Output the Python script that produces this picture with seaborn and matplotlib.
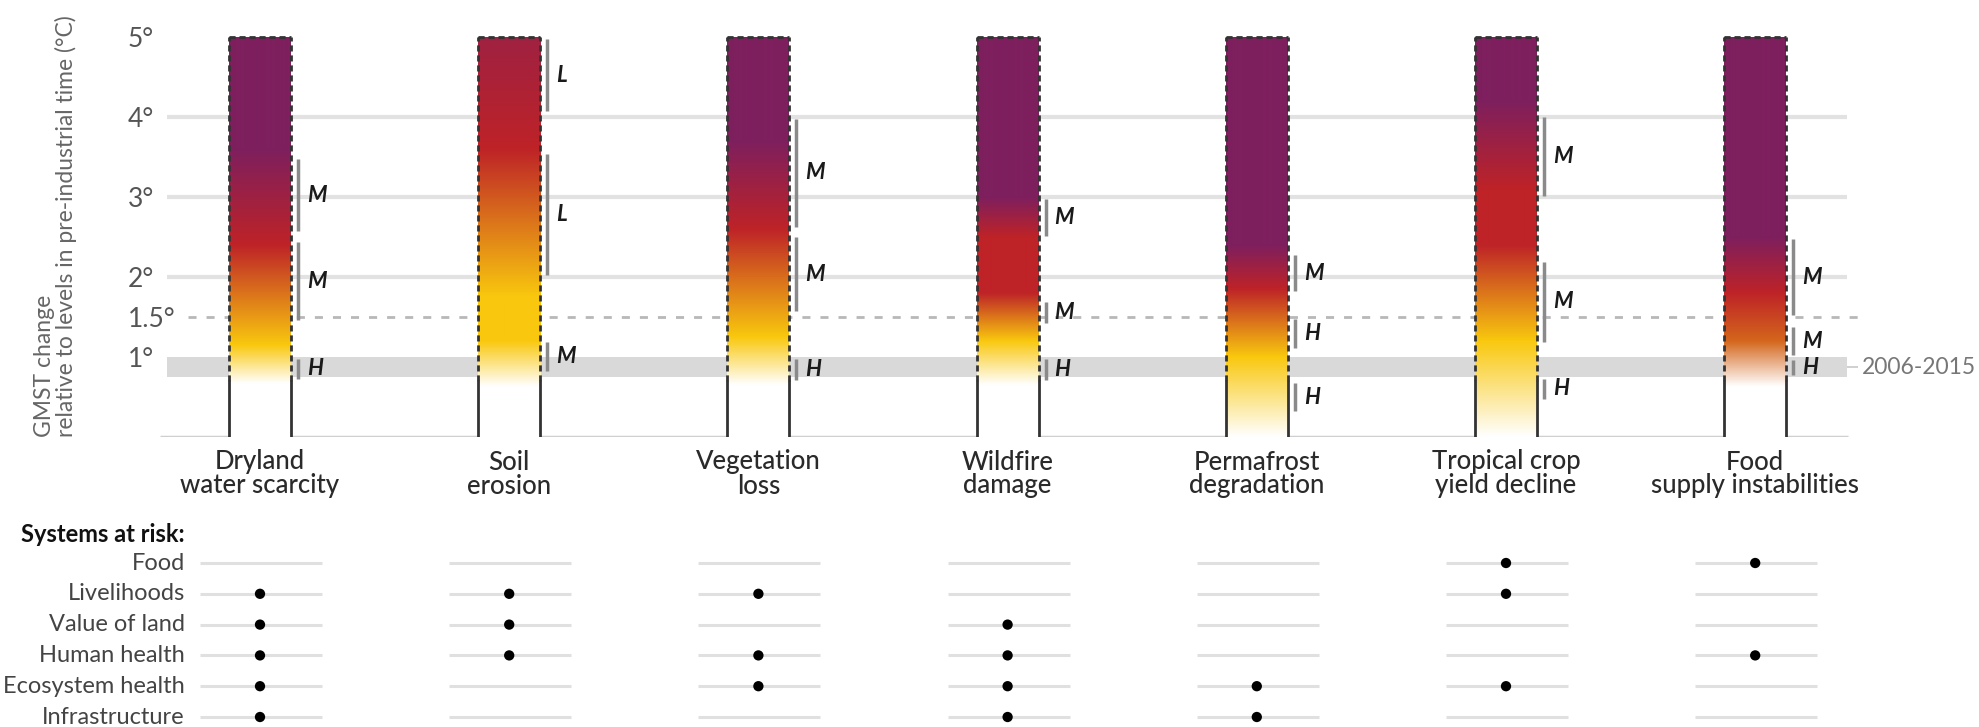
import numpy as np
import pandas as pd
import matplotlib
matplotlib.use("Agg")
import matplotlib.pyplot as plt
import seaborn as sns
from matplotlib.colors import to_rgb

# ---- data -------------------------------------------------------------
categories = [
    "Dryland\nwater scarcity",
    "Soil\nerosion",
    "Vegetation\nloss",
    "Wildfire\ndamage",
    "Permafrost\ndegradation",
    "Tropical crop\nyield decline",
    "Food\nsupply instabilities",
]

# GMST (°C) at which each risk colour is reached, per bar
stop_temps = [
    [0.67, 1.15, 2.4, 3.6],
    [0.63, 1.2, 1.75, 3.6, 6.5],
    [0.65, 1.25, 2.6, 3.7],
    [0.65, 1.2, 1.8, 2.5, 3.0],
    [0.0, 1.0, 1.85, 2.4],
    [0.0, 1.2, 2.4, 3.1, 4.2],
    [0.63, 1.2, 1.8, 2.5],
]
stop_colors = [
    ["white", "yellow", "red", "purple"],
    ["white", "yellow", "yellow", "red", "purple"],
    ["white", "yellow", "red", "purple"],
    ["white", "yellow", "red", "red", "purple"],
    ["white", "yellow", "red", "purple"],
    ["white", "yellow", "red", "red", "purple"],
    ["white", "orange", "red", "purple"],
]

# confidence brackets
bracket_cat = [0, 0, 0, 1, 1, 1, 2, 2, 2, 3, 3, 3, 4, 4, 4, 5, 5, 5, 6, 6, 6]
bracket_lo = [2.55, 1.44, 0.71, 4.05, 2.0, 0.8, 2.61, 1.55, 0.69, 2.49, 1.4, 0.69,
              1.8, 1.09, 0.3, 2.99, 1.17, 0.46, 1.5, 1.0, 0.75]
bracket_hi = [3.5, 2.46, 1.0, 5.0, 3.56, 1.21, 4.0, 2.52, 1.0, 3.0, 1.71, 1.0,
              2.3, 1.49, 0.69, 4.02, 2.21, 0.75, 2.49, 1.4, 0.98]
bracket_conf = ["M", "M", "H", "L", "L", "M", "M", "M", "H", "M", "M", "H",
                "M", "H", "H", "M", "M", "H", "M", "M", "H"]

ytick_values = [1, 1.5, 2, 3, 4, 5]
ytick_labels = ["1°", "1.5°", "2°", "3°", "4°", "5°"]
band_lo, band_hi = 0.75, 1.0  # 2006-2015 warming

systems = ["Food", "Livelihoods", "Value of land", "Human health",
           "Ecosystem health", "Infrastructure"]
at_risk_food = [5, 6]
at_risk_livelihoods = [0, 1, 2, 5]
at_risk_land = [0, 1, 3]
at_risk_health = [0, 1, 2, 3, 6]
at_risk_ecosystem = [0, 2, 3, 4, 5]
at_risk_infrastructure = [0, 3, 4]

palette = {"white": "#ffffff", "yellow": "#f9c80e", "orange": "#d4661c",
           "red": "#be2327", "purple": "#7e1f5e"}

# ---- style ------------------------------------------------------------
sns.set_theme(style="white")
plt.rcParams["font.family"] = ["Lato", "DejaVu Sans"]

W, H = 1979, 727
px = 249.2                      # pixels per category
x_left = -100 / px
x_right = (W - 260) / px
hw = 31 / px                    # bar half width

fig = plt.figure(figsize=(W / 100, H / 100), dpi=100)
ax = fig.add_axes([160 / W, (H - 437) / H, (W - 160) / W, (437 - 10) / H])
ax2 = fig.add_axes([160 / W, 0, (W - 160) / W, (H - 520) / H])

# ---- upper panel ------------------------------------------------------
g0, g1 = -93 / px, 1587 / px
ax.hlines([2, 3, 4], g0, g1, color="#e2e2e2", lw=3, zorder=0)
ax.fill_between([g0, g1], band_lo, band_hi, color="#d9d9d9", lw=0, zorder=0)
ax.hlines(1.5, -72 / px, 1598 / px, color="#b8b8b8", lw=2,
          linestyles=(0, (2.9, 3.6)), zorder=1)
ax.hlines(0, x_left, 1588 / px, color="#cfcfcf", lw=2.5, zorder=1)
band_mid = (band_lo + band_hi) / 2
ax.hlines(band_mid, g1, 1598 / px, color="#c8c8c8", lw=1.2)
ax.text(1602 / px, band_mid, "2006-2015", va="center", ha="left",
        fontsize=16.5, color="#777777")

t = np.linspace(0, 5, 600)
dash = (0, (2.2, 1.4))
for i in range(len(categories)):
    rgb = np.array([to_rgb(palette[c]) for c in stop_colors[i]])
    img = np.stack([np.interp(t, stop_temps[i], rgb[:, k]) for k in range(3)], axis=-1)
    ax.imshow(img[:, None, :], origin="lower", aspect="auto", interpolation="bilinear",
              extent=[i - hw, i + hw, 0, 5], zorder=2)
    for xe in (i - hw, i + hw):
        ax.plot([xe, xe], [0.7, 5], color="#333333", lw=2, ls=dash, zorder=3)
        ax.plot([xe, xe], [0, 0.7], color="#333333", lw=2, zorder=3)
    ax.plot([i - hw, i + hw], [5, 5], color="#333333", lw=2, ls=dash, zorder=3)

for c, lo, hi, conf in zip(bracket_cat, bracket_lo, bracket_hi, bracket_conf):
    ax.vlines(c + 38 / px, lo + 0.02, hi - 0.02, color="#8a8a8a", lw=2.5, zorder=3)
    ax.text(c + 47 / px, (lo + hi) / 2, conf, fontstyle="italic", fontweight="bold",
            fontsize=16, color="#1a1a1a", va="center", ha="left")

ax.set_xlim(x_left, x_right)
ax.set_ylim(0, 5 + 27 / 80)
ax.set_yticks(ytick_values, ytick_labels)
ax.set_xticks(range(len(categories)), categories)
ax.tick_params(axis="y", length=0, pad=23, labelsize=19, labelcolor="#555555")
ax.tick_params(axis="x", length=0, pad=9, labelsize=18.5, labelcolor="#2a2a2a")
for lbl in ax.get_yticklabels():
    lbl.set_ha("left")
for lbl in ax.get_xticklabels():
    lbl.set_linespacing(0.95)
    lbl.set_fontweight("medium")
ax.set_ylabel("GMST change\nrelative to levels in pre-industrial time (°C)",
              loc="bottom", fontsize=16.5, color="#666666", linespacing=1.0)
ax.yaxis.set_label_coords(-83 / (W - 160), 0)
sns.despine(ax=ax, left=True, bottom=True)

# ---- lower panel: systems at risk -------------------------------------
risk_lists = [at_risk_food, at_risk_livelihoods, at_risk_land, at_risk_health,
              at_risk_ecosystem, at_risk_infrastructure]
df = pd.DataFrame([(cat, row) for row, cats in enumerate(risk_lists) for cat in cats],
                  columns=["category", "system"])

n_cat = len(categories)
rows = np.arange(len(systems))
cat_idx = np.arange(n_cat)
ax2.hlines(np.repeat(rows, n_cat), np.tile(cat_idx, len(systems)) - 60 / px,
           np.tile(cat_idx, len(systems)) + 62 / px, color="#e0e0e0", lw=2.2, zorder=1)
sns.scatterplot(data=df, x="category", y="system", color="black", s=55,
                edgecolor="none", legend=False, ax=ax2, zorder=3)
for r, name in enumerate(systems):
    ax2.text(-75 / px, r, name, ha="right", va="center", fontsize=17, color="#444444")
ax2.text(-75 / px, -0.91, "Systems at risk:", ha="right", va="center",
         fontsize=17, fontweight="bold", color="#111111")
ax2.set_xlim(x_left, x_right)
ax2.set_ylim((727 - 563) / 30.8, (520 - 563) / 30.8)
ax2.axis("off")

fig.savefig("out.png", dpi=100)
